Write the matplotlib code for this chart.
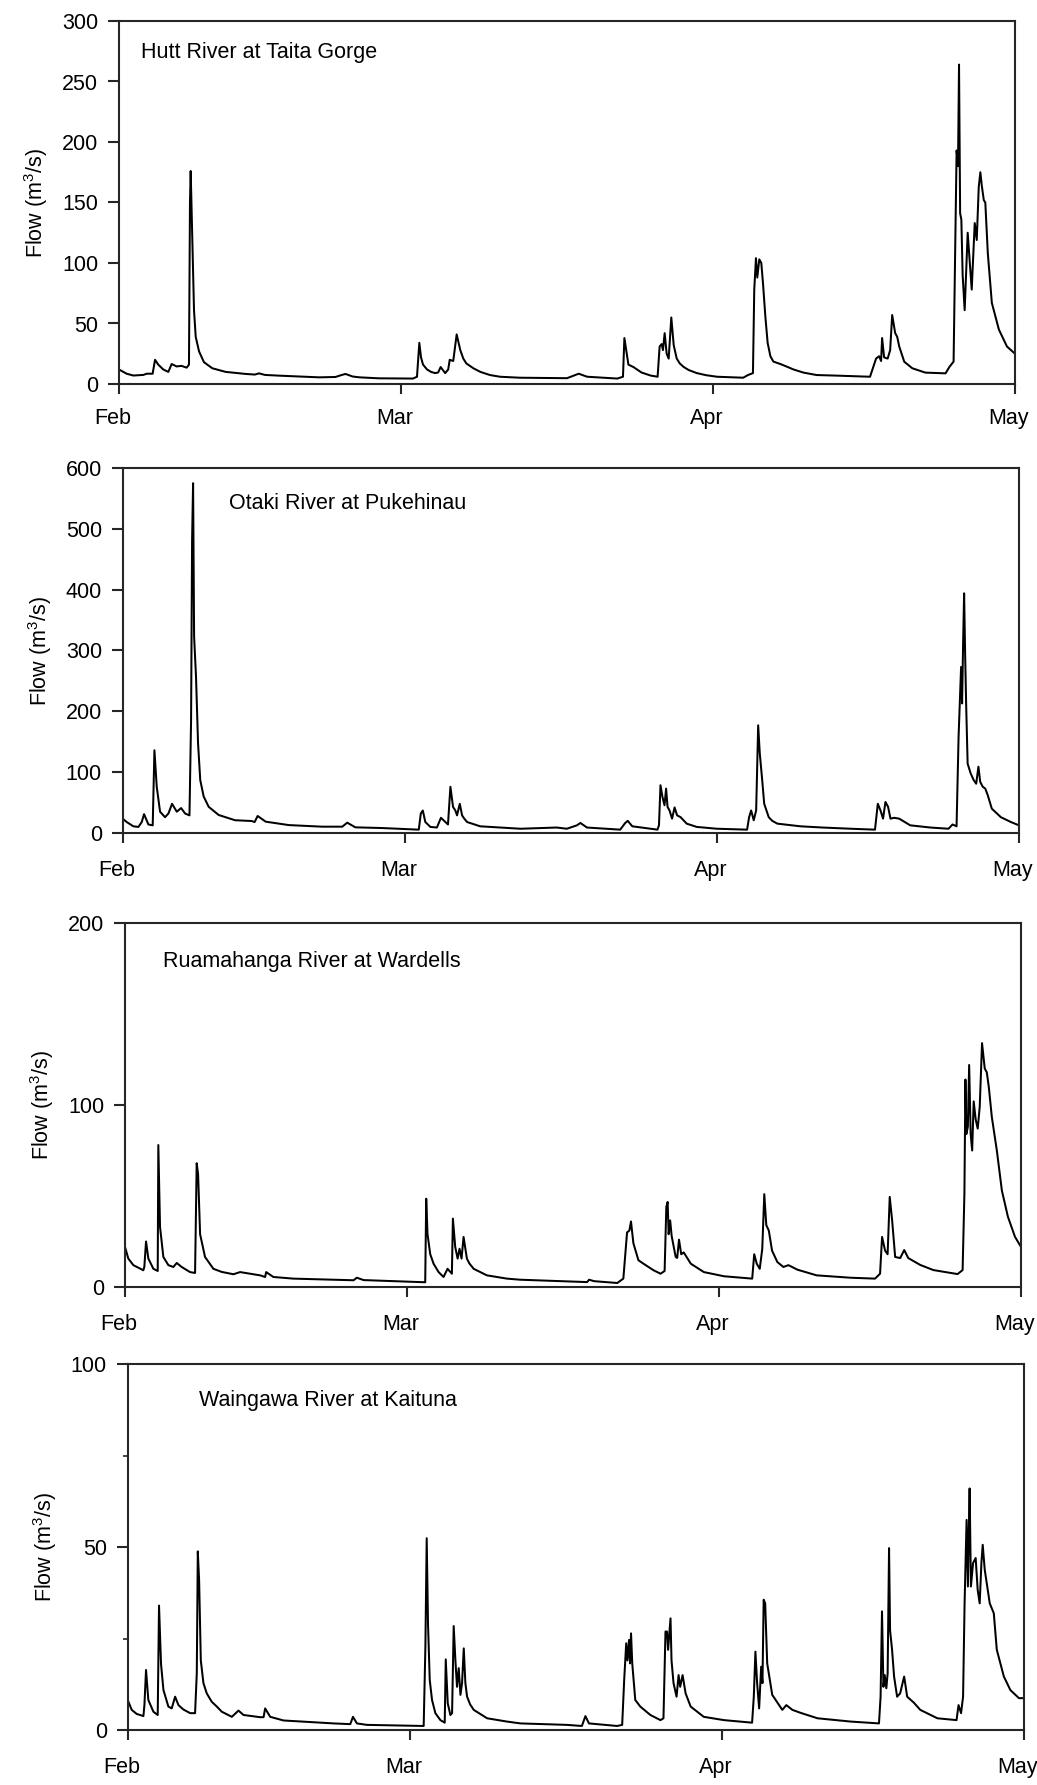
import matplotlib
matplotlib.use("Agg")
import matplotlib.pyplot as plt
import matplotlib.transforms as mtransforms
from matplotlib.ticker import MultipleLocator

# ---------------- data (days after 1 Feb, flow m3/s) ----------------
hutt_day = [0, 0.76, 1.42, 2.42, 2.75, 3.34, 3.58, 3.9, 4.4, 4.9, 5.23, 5.73, 6.2, 6.72, 6.95,
            7.05, 7.12, 7.22, 7.35, 7.45, 7.62, 7.95, 8.44, 9.27, 10.6, 12.6, 13.5, 13.9, 14.5,
            15.9, 19.9, 21.5, 22.1, 22.5, 23.2, 23.9, 25.8, 29.2, 29.6, 29.83, 30.0, 30.2,
            30.6, 31.0, 31.4, 31.7, 31.95, 32.4, 32.7, 32.85, 33.2, 33.54, 33.9, 34.2, 34.5,
            35.2, 35.9, 36.85, 37.85, 39.8,
            44.5, 45.66, 46.5, 49.5, 50.06, 50.2, 50.6, 51.1, 51.9, 52.8, 53.5, 53.7, 53.9,
            54.03, 54.2, 54.4, 54.6, 54.86, 55.1, 55.4, 55.7, 56.1, 56.6, 57.4, 58.3, 59.4,
            62.0, 62.5, 62.97, 63.1, 63.27, 63.4, 63.6, 63.8, 63.97, 64.2, 64.43, 64.7, 65.0,
            65.7, 66.35, 67.0, 68.0, 69.3, 71.0, 74.6, 75.2, 75.5, 75.7, 75.8, 76.0, 76.35,
            76.6, 76.8, 77.1, 77.3, 77.5, 78.0, 78.8, 80.1, 82.1, 82.5, 82.9, 83.2, 83.34,
            83.44, 83.55, 83.67, 83.8, 84.0, 84.3, 84.7, 85.0, 85.2, 85.4, 85.56, 85.7, 85.9,
            86.05, 86.3, 86.7, 87.4, 88.2, 89.0]
hutt_flow = [12, 8.5, 7, 7.5, 8.5, 8.5, 20, 16, 12, 10, 16.5, 14.5, 15, 13.5, 16,
             150, 176, 140, 94, 61, 39, 27, 18, 13, 10, 8.3, 7.8, 8.8, 7.5,
             6.9, 5.5, 5.8, 7.4, 8.3, 6.2, 5.5, 4.7, 4.5, 6, 34, 22, 16,
             12, 10, 9, 9.5, 14, 9, 12, 20, 19, 41, 28, 21, 17,
             13, 10, 7.4, 6, 5.2,
             4.8, 8.5, 6, 4.5, 6, 38, 16, 14, 9.5, 7, 6, 31, 33,
             28, 42, 25, 21, 55, 32, 21, 17, 14, 11.5, 9, 7.3, 6,
             5.2, 7.5, 9, 78, 104, 88, 103, 100, 83, 56, 34, 23, 18.5,
             16.5, 14.3, 12, 9.4, 7.4, 7, 6, 21, 23, 19, 38, 22, 21,
             28, 57, 42, 39, 31, 18.4, 13, 9.4, 8.8, 14.3, 18.5, 193, 180,
             264, 141, 136, 90, 61, 125, 78, 133, 119, 163, 175, 164, 152,
             150, 108, 67, 45, 31, 25]

otaki_day = [0, 0.4, 1.06, 1.56, 1.89, 2.12, 2.55, 2.98, 3.15, 3.38, 3.71, 4.2, 4.54, 4.9,
             5.37, 5.8, 6.2, 6.63, 6.79, 6.89, 6.99, 7.09, 7.28, 7.48, 7.7, 8.04, 8.54, 9.53,
             11.15, 12.8, 13.1, 13.4, 14.2, 16.5, 19.8, 21.8, 22.3, 23.1, 25.7, 29.4, 29.6,
             29.8, 30.05, 30.55, 31.2, 31.6, 32.04, 32.3, 32.54, 32.8, 33.03, 33.2, 33.47,
             33.7, 33.9, 34.2, 35.5, 37.5, 39.5, 43.1, 44.1, 45.1, 45.45, 46.1, 49.4, 49.9,
             50.15, 50.6, 53.1, 53.25, 53.4, 53.6, 53.8, 53.96, 54.1, 54.3, 54.55, 54.8, 55.05,
             55.4, 56.0, 57.0, 59.0, 62.0, 62.2, 62.4, 62.66, 62.9, 63.1, 63.26, 63.5, 63.7,
             64.15, 64.5, 65.0, 67.3, 69.5, 72.3, 74.7, 74.98, 75.25, 75.5, 75.74, 76.0, 76.24,
             76.6, 77.1, 78.2, 80.2, 82.0, 82.4, 82.8, 83.0, 83.25, 83.35, 83.45, 83.55, 83.65,
             83.75, 83.9, 84.2, 84.5, 84.75, 84.97, 85.15, 85.4, 85.65, 85.9, 86.3, 87.2,
             88.2, 89.0]
otaki_flow = [23.6, 18, 11, 10, 18, 31, 14, 12.6, 136, 76, 35, 26, 32, 48,
              35, 41, 32, 29, 186, 482, 575, 323, 257, 148, 87, 60, 43, 29.6,
              21, 19.7, 18, 28, 18.6, 13, 10.4, 10.4, 17, 9.3, 8.2, 5.5, 32,
              37, 18, 10, 9, 25, 18, 14, 76, 43, 37, 29, 48,
              29, 24, 18, 11, 9, 7, 9, 7, 12.6, 16.5, 9, 5.5, 16.5,
              20, 11, 5.5, 12.6, 78.5, 59, 45.6, 73, 43, 37, 23.6, 42, 29,
              26, 15.4, 10, 7, 5.5, 26, 37, 21, 37, 177, 131, 87, 48,
              26, 20, 15.4, 11, 9, 7, 5.5, 48, 37, 23.6, 51, 43, 23.6,
              25, 23.6, 12.6, 9, 7, 14, 11, 158, 273, 213, 312, 394, 295,
              213, 114, 98, 87, 81, 109, 84, 76, 73, 62, 40, 26,
              18, 12.6]

ruam_day = [0, 0.33, 0.83, 1.82, 1.92, 2.09, 2.32, 2.82, 3.25, 3.31, 3.48, 3.81, 4.31, 4.8,
            5.14, 5.63, 6.46, 6.96, 7.12, 7.26, 7.46, 7.95, 8.78, 9.6, 10.77, 11.43, 13.42,
            13.92, 14.02, 14.74, 16.73, 22.7, 23.03, 23.7, 29.82, 29.92, 30.05, 30.32, 30.65,
            31.15, 31.64, 32.04, 32.47, 32.57, 32.8, 33.04, 33.23, 33.43, 33.63, 33.96, 34.2,
            34.63, 35.95, 37.94, 39.26, 45.9, 46.1, 46.6, 48.9, 49.5, 49.7, 49.87, 50.1, 50.26,
            50.5, 51.0, 51.5, 52.5, 53.2, 53.6, 53.77, 53.9, 54.0, 54.15, 54.3, 54.7, 54.85,
            55.03, 55.25, 55.5, 56.2, 57.5, 59.5, 62.3, 62.5, 62.75, 63.05, 63.3, 63.5, 63.7,
            63.95, 64.27, 64.8, 65.4, 65.9, 66.8, 68.7, 72.05, 74.5, 75.0, 75.2, 75.5, 75.75,
            75.96, 76.2, 76.5, 77.0, 77.4, 77.8, 79.0, 80.3, 82.7, 83.2, 83.38, 83.48, 83.57,
            83.72, 83.85, 84.0, 84.15, 84.3, 84.5, 84.7, 84.9, 85.13, 85.4, 85.6, 85.8, 86.1,
            86.6, 87.1, 87.7, 88.4, 89.0]
ruam_flow = [22, 15.6, 12, 9.2, 11, 25, 15.6, 10, 8.8, 78, 33, 16.5, 12, 11,
             13.2, 11, 8.2, 7.7, 68, 62, 29, 16.5, 10, 8.3, 7, 8.2, 6.4,
             5.5, 8.2, 5.5, 4.6, 3.7, 5.1, 3.8, 2.6, 48.5, 29, 18, 12.8,
             8.2, 5.5, 10, 7.3, 37.6, 22, 15.6, 21, 15.6, 27.5, 15.6, 13,
             10, 6.4, 4.6, 4, 2.7, 4, 3.2, 2.2, 4.6, 18, 30, 31, 36,
             24, 14.7, 12.8, 9.2, 7.3, 8.8, 44, 46.7, 29, 36.6, 28, 16.5, 16,
             26, 18, 19, 12.8, 8.2, 5.9, 4.6, 18, 12.8, 10, 21, 51, 34,
             31, 20, 13.7, 11, 12, 9.5, 6.4, 5.1, 4.6, 7.3, 27.5, 20, 18,
             49.5, 36.6, 16.5, 15.9, 20.3, 15.9, 12.1, 9.3, 7.1, 9.3, 51.6, 114, 84,
             88, 122, 84, 75, 102, 92, 87, 99, 134, 120, 118, 110, 93.5,
             75, 53, 38.6, 27.6, 22]

wain_day = [0, 0.4, 0.89, 1.56, 1.66, 1.82, 2.05, 2.55, 2.98, 3.11, 3.31, 3.55, 4.04, 4.37,
            4.71, 5.04, 5.53, 6.2, 6.69, 6.86, 6.96, 7.09, 7.26, 7.52, 7.85, 8.35, 8.85, 9.34,
            10.34, 11.0, 11.5, 13.15, 13.49, 13.65, 14.15, 15.47, 20.44, 22.1, 22.37, 22.76,
            23.76, 29.39, 29.56, 29.69, 29.82, 29.99, 30.22, 30.55, 31.05, 31.48, 31.58, 31.78,
            32.04, 32.21, 32.37, 32.54, 32.7, 32.87, 33.04, 33.2, 33.37, 33.53, 33.7, 34.0,
            34.36, 35.69, 37.67, 39.0,
            43.6, 45.1, 45.45, 45.8, 48.6, 49.1, 49.3, 49.5, 49.62, 49.78, 49.88, 49.98, 50.1,
            50.4, 50.9, 51.9, 52.9, 53.2, 53.4, 53.55, 53.66, 53.8, 53.9, 54.0, 54.2, 54.5,
            54.7, 54.86, 55.1, 55.4, 55.9, 57.2, 59.2, 62.0, 62.17, 62.33, 62.5, 62.7, 62.9,
            63.03, 63.15, 63.3, 63.5, 64.0, 65.0, 65.4, 66.0, 66.8, 68.5, 71.8, 74.6, 74.76,
            74.9, 75.04, 75.17, 75.33, 75.46, 75.6, 75.7, 75.9, 76.1, 76.4, 76.7, 77.1, 77.4,
            78.05, 78.7, 80.4, 82.3, 82.5, 82.75, 82.95, 83.1, 83.3, 83.43, 83.52, 83.6, 83.73,
            83.94, 84.2, 84.4, 84.6, 84.77, 84.9, 85.1, 85.3, 85.6, 86.0, 86.3, 87.0, 87.65,
            88.5, 89.0]
wain_flow = [8.2, 5.5, 4.4, 3.8, 6.8, 16.4, 8.2, 5, 4.1, 34, 18, 10.9, 6.4, 5.9,
             9.1, 6.8, 5.6, 4.6, 4.6, 15.5, 48.8, 41, 19, 12.8, 10, 7.7, 6.4, 5,
             3.6, 5.3, 4.1, 3.5, 3.5, 5.9, 3.6, 2.6, 1.8, 1.6, 3.6, 1.8,
             1.4, 1.1, 22.8, 52.4, 29, 13.7, 8.2, 4.6, 2.7, 2, 19.3, 7.3,
             4.1, 4.6, 28.4, 19, 11.8, 16.9, 9.6, 12.8, 22.3, 12.8, 9.1, 7,
             5.5, 3.2, 2.3, 1.8,
             1.4, 1.1, 3.8, 1.8, 1.1, 1.4, 13.7, 23.7, 19, 24.6, 18.2, 26.4, 18.2,
             8.2, 6.4, 4.1, 2.7, 3.2, 26.9, 26.9, 21.9, 26.9, 30.5, 19, 12.8, 9.1,
             15, 11.8, 15, 10, 6.4, 3.6, 2.7, 2, 9.1, 21.4, 12.8, 5.9, 17.3,
             12.8, 35.6, 34.6, 18.2, 9.6, 5.5, 6.8, 5.5, 4.7, 3.2, 2.3, 1.8, 9.1,
             32.4, 11.8, 15, 11.4, 15.5, 49.7, 27.3, 21.9, 14.6, 9.1, 10, 14.6, 9.1,
             7.5, 5.5, 3.2, 2.7, 6.8, 4.6, 9.1, 34.6, 57.4, 39.2, 54.7, 66, 39.2,
             45.6, 47, 38.3, 34.6, 45.6, 50.6, 43.8, 40.1, 34.6, 31.9, 21.9, 14.6, 10.9,
             8.7, 8.7]

rivers = ["Hutt River at Taita Gorge", "Otaki River at Pukehinau",
          "Ruamahanga River at Wardells", "Waingawa River at Kaituna"]
month_labels = ["Feb", "Mar", "Apr", "May"]
month_start_days = [0, 28, 59, 89]
y_max = [300, 600, 200, 100]
y_step = [50, 100, 100, 50]

series = [(hutt_day, hutt_flow), (otaki_day, otaki_flow),
          (ruam_day, ruam_flow), (wain_day, wain_flow)]

# ---------------- layout ----------------
W, H = 1037, 1785
boxes = [(119, 1015, 21, 384), (122.7, 1019, 468, 833),
         (125, 1021, 923, 1287), (127.7, 1024, 1364, 1730)]
title_pos = [(0.025, 0.912), (0.119, 0.902), (0.042, 0.894), (0.079, 0.9)]
xpads = [10, 12, 12, 12]

plt.rcParams['font.family'] = ['Liberation Sans', 'DejaVu Sans']
plt.rcParams['mathtext.fontset'] = 'custom'
plt.rcParams['mathtext.rm'] = 'Liberation Sans'

fig = plt.figure(figsize=(W / 100, H / 100), dpi=100)
spine_col = '#262626'
shift = mtransforms.ScaledTranslation(-6 / 100, 0, fig.dpi_scale_trans)
for i, ((x, y), (l, r, t, b)) in enumerate(zip(series, boxes)):
    ax = fig.add_axes([l / W, 1 - b / H, (r - l) / W, (b - t) / H])
    ax.plot(x, y, color='black', lw=1.45)
    ax.set_xlim(0, 89)
    ax.set_ylim(0, y_max[i])
    ax.set_xticks(month_start_days)
    ax.set_xticklabels(month_labels)
    ax.yaxis.set_major_locator(MultipleLocator(y_step[i]))
    if i == 3:
        ax.yaxis.set_minor_locator(MultipleLocator(25))
        ax.tick_params(axis='y', which='minor', direction='out', length=3.5,
                       width=1.2, color=spine_col)
    for s in ax.spines.values():
        s.set_linewidth(1.5)
        s.set_color(spine_col)
    ax.tick_params(axis='x', which='major', direction='out', length=7.5, width=1.5,
                   pad=xpads[i], labelsize=15.5, color=spine_col)
    ax.tick_params(axis='y', which='major', direction='out', length=8, width=1.5,
                   pad=7, labelsize=15.5, color=spine_col)
    for lab in ax.get_xticklabels():
        lab.set_transform(lab.get_transform() + shift)
    ax.set_ylabel('Flow (m$^3$/s)', fontsize=15.5)
    ax.yaxis.set_label_coords(-0.077, 0.5)
    ax.text(title_pos[i][0], title_pos[i][1], rivers[i], transform=ax.transAxes,
            fontsize=15.5, ha='left', va='center')

fig.savefig('out.png', dpi=100)
